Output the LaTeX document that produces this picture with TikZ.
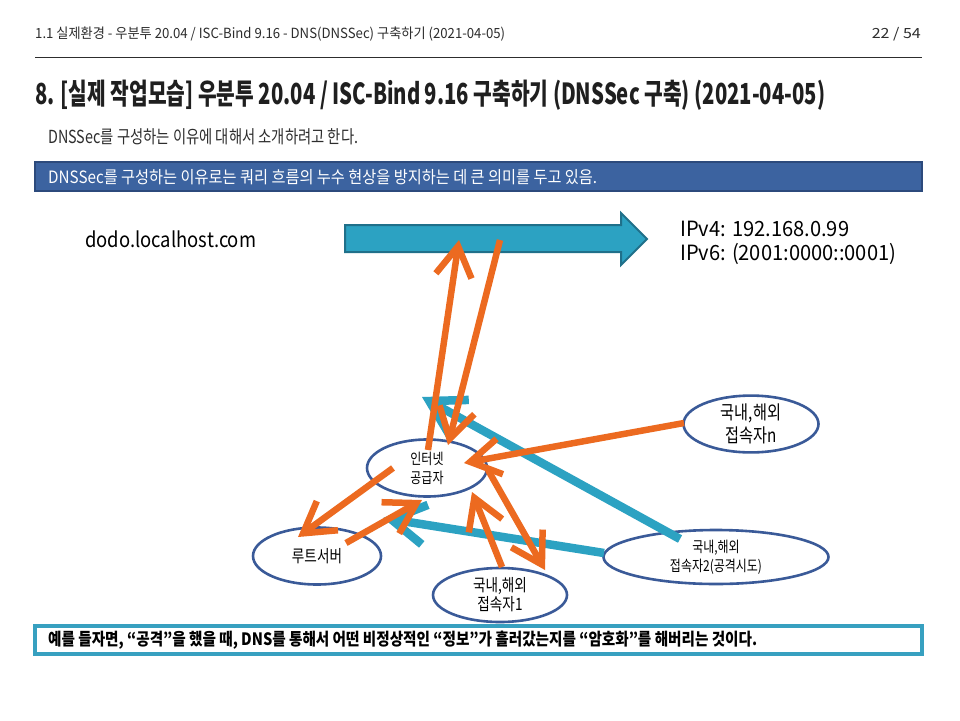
\documentclass[tikz,border=0pt]{standalone}
\usepackage{fontspec}
\usepackage{graphicx}
\setmainfont{Noto Sans CJK KR}
\newfontfamily\cond[FakeStretch=0.8]{Noto Sans CJK KR}
\usetikzlibrary{arrows.meta,shapes.geometric}
\definecolor{orangeA}{RGB}{236,106,32}
\definecolor{tealA}{RGB}{44,162,194}
\definecolor{tealD}{RGB}{32,112,138}
\definecolor{ellblue}{RGB}{58,90,152}
\definecolor{banfill}{RGB}{60,99,160}
\definecolor{banline}{RGB}{44,74,124}
\definecolor{boxteal}{RGB}{55,160,192}
\definecolor{hdrgray}{RGB}{45,45,45}
\newlength\fitlen
\newcommand\fitx[2]{\settowidth\fitlen{#2}\pgfmathsetmacro\fitfac{#1/\fitlen}\scalebox{\fitfac}[1]{#2}}
\tikzset{
  txt/.style={inner sep=0pt, anchor=west},
  ell/.style={ellipse, draw=ellblue, line width=2.6pt, fill=white, inner sep=0pt, align=center},
  oarr/.style={draw=orangeA, line width=6.5pt, -{Straight Barb[length=30pt,width=36pt]}},
  tarr/.style={draw=tealA, line width=8.5pt, -{Straight Barb[length=34pt,width=40pt]}},
  bigarr/.style={fill=tealA, draw=tealD, line width=2pt, line join=miter},
  banner/.style={fill=banfill, draw=banline, line width=2pt},
  tbox/.style={fill=white, draw=boxteal, line width=3.5pt}
}
\begin{document}
\begin{tikzpicture}[x=1pt,y=-1pt]
\useasboundingbox (0,0) rectangle (960,720);
\fill[white] (0,0) rectangle (960,720);
% header
\node[txt] (hdr) at (35,34) {\fontsize{14}{16}\selectfont\color{hdrgray}\fitx{470pt}{1.1 실제환경 - 우분투 20.04 / ISC-Bind 9.16 - DNS(DNSSec) 구축하기 (2021-04-05)}};
\node[inner sep=0pt, anchor=east] (pg) at (921,34) {\fontsize{14}{16}\selectfont\color{hdrgray}\fitx{49pt}{22 / 54}};
\draw[hdrgray, line width=0.9pt] (35,57) -- (922,57);
% title
\node[txt] (title) at (35,95) {\fontsize{29}{32}\selectfont\bfseries\color{black!88}\fitx{790pt}{8. [실제 작업모습] 우분투 20.04 / ISC-Bind 9.16 구축하기 (DNSSec 구축) (2021-04-05)}};
\node[txt] (intro) at (48,137) {\fontsize{18}{20}\selectfont\color{hdrgray}\fitx{310pt}{DNSSec를 구성하는 이유에 대해서 소개하려고 한다.}};
% banner
\draw[banner] (35,162) rectangle (922,191);
\node[txt] (bantext) at (48,177) {\fontsize{17}{19}\selectfont\color{white}\fitx{549pt}{DNSSec를 구성하는 이유로는 쿼리 흐름의 누수 현상을 방지하는 데 큰 의미를 두고 있음.}};
% big arrow
\draw[bigarr] (345,225) -- (621,225) -- (621,213) -- (647,239) -- (621,265) -- (621,252) -- (345,252) -- cycle;
\coordinate (o1e) at (459,240);
\coordinate (o2s) at (500,240);
\node[txt] (dodo) at (85,239) {\fontsize{21}{23}\selectfont\fitx{171pt}{dodo.localhost.com}};
\node[txt] (ipv4) at (680,229) {\fontsize{21}{23}\selectfont\fitx{169pt}{IPv4: 192.168.0.99}};
\node[txt] (ipv6) at (680,254) {\fontsize{21}{23}\selectfont\fitx{216pt}{IPv6: (2001:0000::0001)}};
% ellipses
\node[ell, minimum width=120pt, minimum height=57pt, font=\cond\fontsize{15}{19}\selectfont] (isp) at (427,468) {인터넷\\공급자};
\node[ell, minimum width=128pt, minimum height=57pt, font=\cond\fontsize{17}{20}\selectfont] (root) at (317,556) {루트서버};
\node[ell, minimum width=134pt, minimum height=54pt, font=\cond\fontsize{17}{19}\selectfont] (c1) at (500,595) {국내,해외\\접속자1};
\node[ell, minimum width=135pt, minimum height=54pt, font=\cond\fontsize{19}{23}\selectfont] (cn) at (751,424) {국내,해외\\접속자n};
\node[ell, minimum width=225pt, minimum height=54pt, font=\cond\fontsize{15}{19}\selectfont] (c2) at (716,557) {국내,해외\\접속자2(공격시도)};
% connector end points
\coordinate (o1s) at (428,450);
\coordinate (o2e) at (448,445);
\coordinate (o3s) at (684,423);
\coordinate (o3e) at (464,463);
\coordinate (o4s) at (393,468);
\coordinate (o4e) at (298,537);
\coordinate (o5s) at (346,543);
\coordinate (o5e) at (422,500);
\coordinate (o6s) at (502,567);
\coordinate (o6e) at (472,492);
\coordinate (o7s) at (488,470);
\coordinate (o7e) at (545,570);
\coordinate (tas) at (680,539);
\coordinate (tae) at (422,397);
\coordinate (tbs) at (604,553);
\coordinate (tbe) at (383,518);
% teal arrows
\draw[tarr] (tas) -- (tae);
\draw[tarr] (tbs) -- (tbe);
% orange arrows
\draw[oarr] (o1s) -- (o1e);
\draw[oarr] (o2s) -- (o2e);
\draw[oarr] (o3s) -- (o3e);
\draw[oarr] (o4s) -- (o4e);
\draw[oarr] (o5s) -- (o5e);
\draw[oarr] (o6s) -- (o6e);
\draw[oarr] (o7s) -- (o7e);
% bottom box
\draw[tbox] (35,626) rectangle (922,654);
\node[txt] (bottom) at (48,640) {\fontsize{17}{19}\selectfont\bfseries\fitx{709pt}{예를 들자면, “공격”을 했을 때, DNS를 통해서 어떤 비정상적인 “정보”가 흘러갔는지를 “암호화”를 해버리는 것이다.}};
\end{tikzpicture}
\end{document}
